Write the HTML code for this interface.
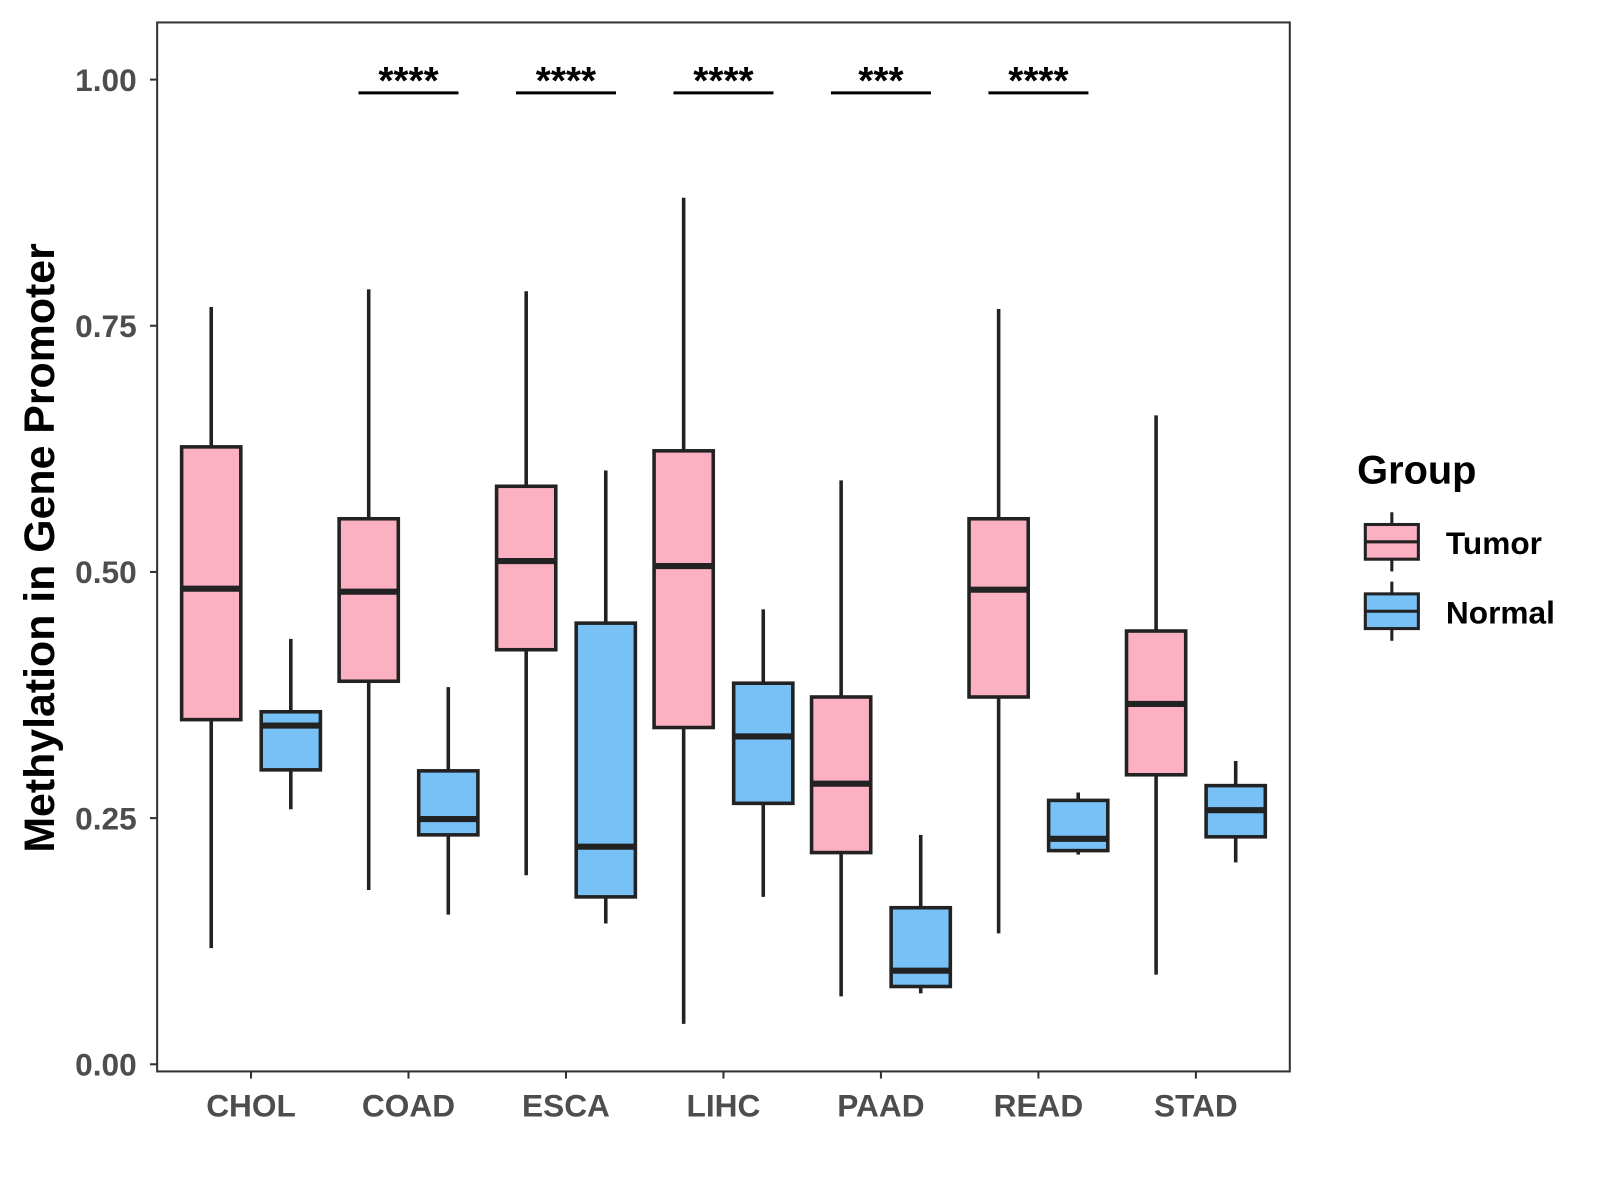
<!DOCTYPE html>
<html><head><meta charset="utf-8"><style>
html,body{margin:0;padding:0;background:#fff;}
svg{display:block;font-family:"Liberation Sans",Arial,sans-serif;}
</style></head><body>
<svg id="chart" width="1600" height="1200" viewBox="0 0 1568 1176">
<rect x="154" y="22" width="1110" height="1028" fill="#fff" stroke="#333" stroke-width="2"/>
<g id="marks"></g>
<g id="axes"></g>
<text transform="translate(53,537) rotate(-90)" text-anchor="middle" font-size="42" font-weight="bold" fill="#000">Methylation in Gene Promoter</text>
<g>
<text x="1330" y="474" font-size="39" font-weight="bold">Group</text>
<g>
<line x1="1364" y1="502" x2="1364" y2="560" stroke="#222" stroke-width="3"/>
<rect x="1338" y="514" width="52" height="34" fill="#fcb1c3" stroke="#222" stroke-width="3"/>
<line x1="1338" y1="531" x2="1390" y2="531" stroke="#222" stroke-width="3"/>
<text x="1417" y="543" font-size="31" font-weight="bold">Tumor</text></g>
<g>
<line x1="1364" y1="570" x2="1364" y2="628" stroke="#222" stroke-width="3"/>
<rect x="1338" y="582" width="52" height="34" fill="#77c1f7" stroke="#222" stroke-width="3"/>
<line x1="1338" y1="599" x2="1390" y2="599" stroke="#222" stroke-width="3"/>
<text x="1417" y="611" font-size="31" font-weight="bold">Normal</text></g>
</g>
</svg>
<script>
const categories=["CHOL","COAD","ESCA","LIHC","PAAD","READ","STAD"];
// [lowWhisker, q1, median, q3, highWhisker]
const tumorStats=[[0.118,0.350,0.483,0.627,0.769],[0.177,0.389,0.480,0.554,0.787],[0.192,0.421,0.511,0.587,0.785],[0.041,0.342,0.506,0.623,0.880],[0.069,0.215,0.285,0.373,0.593],[0.133,0.373,0.482,0.554,0.767],[0.091,0.294,0.366,0.440,0.659]];
const normalStats=[[0.259,0.299,0.344,0.358,0.432],[0.152,0.233,0.249,0.298,0.383],[0.143,0.170,0.221,0.448,0.603],[0.170,0.265,0.333,0.387,0.462],[0.072,0.079,0.095,0.159,0.233],[0.213,0.217,0.229,0.268,0.276],[0.205,0.231,0.258,0.283,0.308]];
const yTicks=[0,0.25,0.5,0.75,1.0];
const yTickLabels=["0.00","0.25","0.50","0.75","1.00"];
const sigLabels=["","****","****","****","***","****",""];

const NS="http://www.w3.org/2000/svg";
const y=v=>1043-v*965;
const x=i=>246+i*154.33;
function mk(tag,attrs,parent){const e=document.createElementNS(NS,tag);for(const k in attrs)e.setAttribute(k,attrs[k]);parent.appendChild(e);return e;}
const marks=document.getElementById('marks'),axes=document.getElementById('axes');
function box(cx,s,fill,name){
  const g=mk('g',{},marks);
  
  
  const st={stroke:'#222','stroke-width':3.5};
  mk('line',Object.assign({x1:cx,x2:cx,y1:y(s[4]),y2:y(s[3])},st),g);
  mk('line',Object.assign({x1:cx,x2:cx,y1:y(s[1]),y2:y(s[0])},st),g);
  mk('rect',Object.assign({x:cx-29,y:y(s[3]),width:58,height:y(s[1])-y(s[3]),fill:fill},st),g);
  mk('line',{x1:cx-29,x2:cx+29,y1:y(s[2]),y2:y(s[2]),stroke:'#222','stroke-width':6},g);
}
categories.forEach((c,i)=>{
  box(x(i)-39,tumorStats[i],'#fcb1c3','box-tumor-'+c.toLowerCase());
  box(x(i)+39,normalStats[i],'#77c1f7','box-normal-'+c.toLowerCase());
  mk('line',{x1:x(i),x2:x(i),y1:1050,y2:1057,stroke:'#333','stroke-width':2},axes);
  const t=mk('text',{x:x(i),y:1094,'text-anchor':'middle','font-size':31,'font-weight':'bold',fill:'#4d4d4d'},axes);
  t.textContent=c;
  
  
  if(sigLabels[i]){
    const g=mk('g',{},marks);
    
    
    mk('line',{x1:x(i)-49,x2:x(i)+49,y1:91,y2:91,stroke:'#000','stroke-width':3},g);
    const s=mk('text',{x:x(i),y:92,'text-anchor':'middle','font-size':38,'font-weight':'bold',fill:'#000'},g);
    s.textContent=sigLabels[i];
  }
});
yTicks.forEach((v,i)=>{
  mk('line',{x1:147,x2:154,y1:y(v),y2:y(v),stroke:'#333','stroke-width':2},axes);
  const t=mk('text',{x:134,y:y(v)+11,'text-anchor':'end','font-size':31,'font-weight':'bold',fill:'#4d4d4d'},axes);
  t.textContent=yTickLabels[i];
  
  
});
</script>
</body></html>
